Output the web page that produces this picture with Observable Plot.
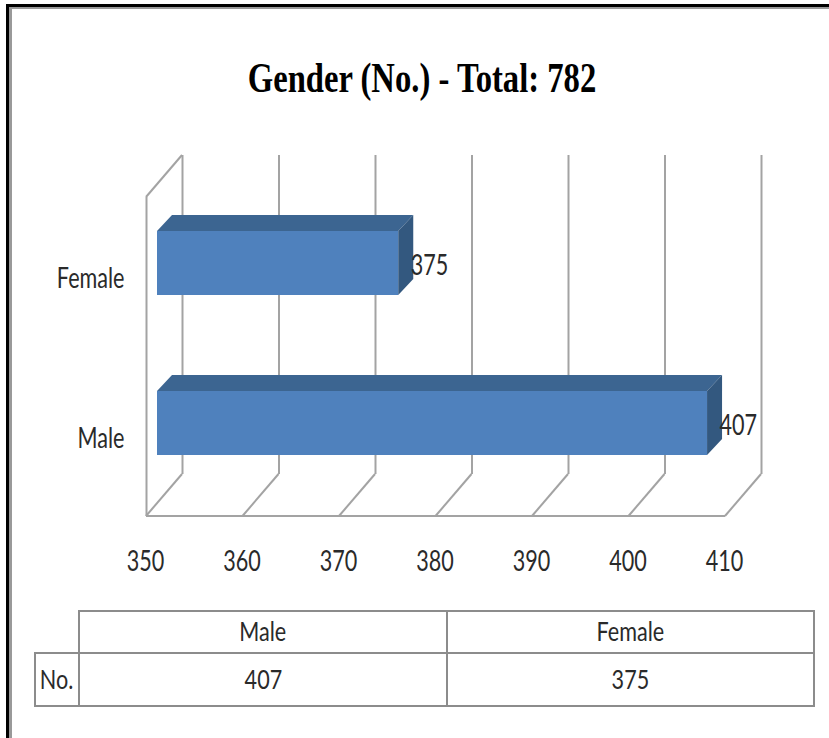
<!DOCTYPE html>
<html><head><meta charset="utf-8">
<script src="https://cdn.jsdelivr.net/npm/d3@7"></script>
<script src="https://cdn.jsdelivr.net/npm/@observablehq/plot@0.6"></script>
<style>
html,body{margin:0;padding:0;background:#fff;width:829px;height:738px;overflow:hidden}
#frame{position:absolute;left:6px;top:4px;right:-10px;bottom:-10px;border-left:3px solid #000;border-top:3px solid #000}
#frame2{position:absolute;left:0;top:0;right:0;bottom:0;border-left:3px solid #999;border-top:2px solid #999}
#title{position:absolute;left:0;top:0;width:844px;height:130px;text-align:center;font:bold 32px/156px "Liberation Serif",serif;color:#000;transform:scale(1.02,1.3);transform-origin:422px 78px;white-space:nowrap;margin:0}
#chart{position:absolute;left:0;top:130px}
#tbl{position:absolute;left:34px;top:610px;border-collapse:collapse;table-layout:fixed;width:779px;font:20px Lato,sans-serif;color:#2a2a2a}
#tbl td{border:2px solid #8c8c8c;text-align:center;padding:0 0 4px 0;overflow:hidden}
#tbl td span{display:inline-block;transform:scale(1.08,1.35)}
#tbl td.blank{border:none}
#tbl tr.r1{height:42px}#tbl tr.r2{height:53px}
</style></head><body>
<div id="frame"><div id="frame2"></div></div>
<h1 id="title"></h1>
<div id="chart"></div>
<table id="tbl"><colgroup><col style="width:44px"><col style="width:368px"><col style="width:367px"></colgroup><tbody></tbody></table>
<script>
const titleText = "Gender (No.) - Total: 782";
const categories = ["Female", "Male"];
const counts = [375, 407];
const tableHeaders = ["Male", "Female"];
const tableRowLabel = "No.";
const tableValues = [407, 375];
const xTicks = [350, 360, 370, 380, 390, 400, 410];
const baseline = 350;

document.getElementById("title").textContent = titleText;

const rows = categories.map((c, i) => ({category: c, count: counts[i]}));
const grid = "#a3a3a3", front = "#4f81bd", topFace = "#3c6591", sideFace = "#33587f", ink = "#2a2a2a";
const depth = [36, 42];      // chart wall/floor depth
const barDepth = [15, 16];   // bar extrusion

function floor(index, scales, values, dims) {
  const yf = dims.height - dims.marginBottom + depth[1];
  const g = d3.create("svg:g").attr("fill", "none").attr("stroke", grid).attr("stroke-width", 2);
  g.append("line").attr("x1", scales.x(xTicks[0])).attr("x2", scales.x(xTicks[xTicks.length - 1]))
    .attr("y1", yf).attr("y2", yf);
  for (const t of xTicks) {
    g.append("line").attr("x1", scales.x(t)).attr("x2", scales.x(t) + depth[0])
      .attr("y1", yf).attr("y2", yf - depth[1]);
  }
  g.append("line").attr("x1", scales.x(xTicks[0])).attr("x2", scales.x(xTicks[0]) + depth[0])
    .attr("y1", dims.marginTop + depth[1]).attr("y2", dims.marginTop);
  return g.node();
}

function faces(index, scales, values, dims, ctx, next) {
  const g = next(index, scales, values, dims, ctx);
  const bw = scales.y.bandwidth();
  const sel = d3.select(g);
  for (const i of index) {
    const x1 = values.x1[i], x2 = values.x2[i], y = values.y[i];
    const [a, b] = barDepth;
    sel.append("path").attr("fill", topFace)
      .attr("d", `M${x1} ${y}L${x1 + a} ${y - b}L${x2 + a} ${y - b}L${x2} ${y}Z`);
    sel.append("path").attr("fill", sideFace)
      .attr("d", `M${x2} ${y}L${x2 + a} ${y - b}L${x2 + a} ${y + bw - b}L${x2} ${y + bw}Z`);
  }
  return g;
}

const plot = Plot.plot({
  width: 829, height: 470,
  marginLeft: 146, marginRight: 104, marginTop: 25, marginBottom: 126,
  style: {fontFamily: "Lato, sans-serif", fontSize: "20px", color: ink, background: "transparent"},
  x: {domain: [baseline, 410]},
  y: {type: "band", domain: categories, range: [53, 373], paddingInner: 0.6, paddingOuter: 0.3, align: 0.5, round: false},
  marks: [
    Plot.ruleX(xTicks, {x: d => d, dx: depth[0], stroke: grid, strokeWidth: 2}),
    Plot.ruleX([baseline], {x: d => d, dy: depth[1], stroke: grid, strokeWidth: 2}),
    Plot.ruleX([baseline], {x: d => d, render: floor}),
    Plot.barX(rows, {x1: () => baseline, x2: "count", y: "category", fill: front, dx: 11, render: faces}),
    Plot.text(rows, {x: "count", y: "category", text: d => String(d.count), textAnchor: "start", dx: 23, dy: 2, fill: ink}),
    Plot.axisX({ticks: xTicks, tickSize: 0, tickPadding: 76, label: null, tickFormat: d => String(d), fill: ink, dx: -1}),
    Plot.axisY({tickSize: 0, tickPadding: 22, label: null, dy: 15, fill: ink})
  ]
});
plot.querySelectorAll("text").forEach(t => {
  const tr = t.getAttribute("transform") || "";
  t.setAttribute("transform", tr + " scale(1.08,1.45)");
});
document.getElementById("chart").append(plot);

const tb = document.querySelector("#tbl tbody");
const r1 = tb.insertRow(); r1.className = "r1";
r1.insertCell().className = "blank";
tableHeaders.forEach(h => { r1.insertCell().innerHTML = `<span>${h}</span>`; });
const r2 = tb.insertRow(); r2.className = "r2";
r2.insertCell().innerHTML = `<span>${tableRowLabel}</span>`;
tableValues.forEach(v => { r2.insertCell().innerHTML = `<span>${v}</span>`; });
</script>
</body></html>
